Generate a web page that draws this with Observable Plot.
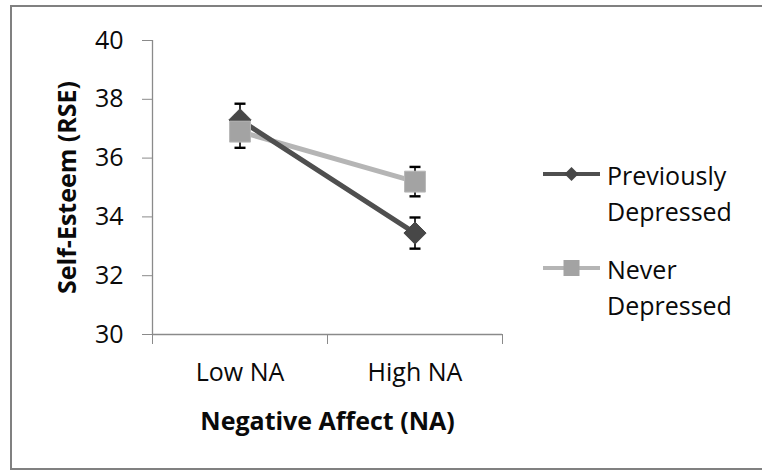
<!DOCTYPE html>
<html>
<head>
<meta charset="utf-8">
<script src="https://cdn.jsdelivr.net/npm/d3@7"></script>
<script src="https://cdn.jsdelivr.net/npm/@observablehq/plot@0.6"></script>
<style>
  html, body { margin: 0; padding: 0; background: #fff; }
  #wrap { position: relative; width: 762px; height: 474px; overflow: hidden; font-family: "Open Sans", Lato, sans-serif; }
  #border { position: absolute; left: 10px; top: 5px; width: 800px; height: 465px; border: 2px solid #808080; box-sizing: border-box; }
  #chart { position: absolute; left: 0; top: 0; }
  .leg { position: absolute; left: 543px; font-size: 25px; line-height: 36px; color: #0a0a0a; display: flex; align-items: flex-start; }
  .leg .lab { margin-left: 7px; }
</style>
</head>
<body>
<div id="wrap">
  <div id="border"></div>
  <div id="chart"></div>
  <div id="legend"></div>
</div>
<script>
// ---- data ----
const categories = ["Low NA", "High NA"];
const seriesNames = ["Previously Depressed", "Never Depressed"];
const prevDep = [37.3, 33.45];
const prevDepErr = [0.55, 0.53];
const neverDep = [36.9, 35.2];
const neverDepErr = [0.55, 0.5];
const yTicks = [30, 32, 34, 36, 38, 40];
const yTitle = "Self-Esteem (RSE)";
const xTitle = "Negative Affect (NA)";

const colors = {prev: "#4f4f4f", prevMarker: "#474747", never: "#b5b5b5", neverMarker: "#a3a3a3"};

// categories placed at band centres of a [0, n] scale
const pos = i => i + 0.5;
const rows = (vals, errs, s) => vals.map((v, i) => ({series: s, cat: categories[i], x: pos(i), v, lo: v - errs[i], hi: v + errs[i]}));
const prevRows = rows(prevDep, prevDepErr, seriesNames[0]);
const neverRows = rows(neverDep, neverDepErr, seriesNames[1]);
const allRows = prevRows.concat(neverRows);

const capSymbol = { draw(ctx, size) { const r = Math.sqrt(size / Math.PI); ctx.moveTo(-r, 0); ctx.lineTo(r, 0); } };
const font = "'Open Sans', Lato, sans-serif";

const chart = Plot.plot({
  width: 762,
  height: 474,
  marginLeft: 152,
  marginRight: 260,
  marginTop: 40,
  marginBottom: 140,
  style: {fontFamily: font, fontSize: "25px", color: "#0a0a0a", background: "transparent"},
  x: {domain: [0, categories.length]},
  y: {domain: [30, 40]},
  marks: [
    Plot.ruleY([30], {stroke: "#8a8a8a", strokeWidth: 1.3}),
    Plot.ruleX([0], {stroke: "#8a8a8a", strokeWidth: 1.3}),
    Plot.axisY({ticks: yTicks, tickSize: 10, tickPadding: 19, stroke: "#8a8a8a", label: null, fontSize: 25, tickFormat: d => d}),
    Plot.axisX({ticks: d3.range(categories.length + 1), tickSize: 10, tickFormat: () => "", stroke: "#8a8a8a", label: null}),
    Plot.axisX({ticks: categories.map((c, i) => pos(i)), tickSize: 0, tickPadding: 29, tickFormat: d => categories[d - 0.5], label: null, fontSize: 25}),
    Plot.text([xTitle], {frameAnchor: "bottom", dy: 87, fontWeight: "bold", fontSize: 25, lineAnchor: "middle", fill: "#0a0a0a"}),
    Plot.text([yTitle], {frameAnchor: "left", dx: -85, rotate: -90, textAnchor: "middle", fontWeight: "bold", fontSize: 25, lineAnchor: "middle", fill: "#0a0a0a"}),
    // error bars (drawn behind lines and markers)
    Plot.ruleX(allRows, {x: "x", y1: "lo", y2: "hi", stroke: "#000", strokeWidth: 1.6}),
    Plot.dot(allRows, {x: "x", y: "lo", symbol: capSymbol, r: 5.5, stroke: "#000", strokeWidth: 2.4}),
    Plot.dot(allRows, {x: "x", y: "hi", symbol: capSymbol, r: 5.5, stroke: "#000", strokeWidth: 2.4}),
    // lines
    Plot.line(neverRows, {x: "x", y: "v", stroke: colors.never, strokeWidth: 5}),
    Plot.line(prevRows, {x: "x", y: "v", stroke: colors.prev, strokeWidth: 5}),
    // markers
    Plot.dot(prevRows, {x: "x", y: "v", symbol: "diamond2", r: 10, fill: colors.prevMarker, stroke: colors.prevMarker, strokeWidth: 1}),
    Plot.dot(neverRows, {x: "x", y: "v", symbol: "square2", r: 13.3, fill: colors.neverMarker, stroke: "#b8b8b8", strokeWidth: 1})
  ]
});
document.getElementById("chart").appendChild(chart);

// ---- legend ----
const legend = document.getElementById("legend");
const legItems = [
  {name: seriesNames[0], line: colors.prev, marker: colors.prevMarker, shape: "diamond", top: 157},
  {name: seriesNames[1], line: colors.never, marker: colors.neverMarker, shape: "square", top: 251}
];
for (const it of legItems) {
  const div = document.createElement("div");
  div.className = "leg";
  div.style.top = it.top + "px";
  const glyph = it.shape === "diamond"
    ? `<polygon points="28.5,10 35.5,17 28.5,24 21.5,17" fill="${it.marker}"/>`
    : `<rect x="20.5" y="9" width="16" height="16" fill="${it.marker}"/>`;
  div.innerHTML = `<svg width="57" height="34"><line x1="0" x2="57" y1="17" y2="17" stroke="${it.line}" stroke-width="4"/>${glyph}</svg><span class="lab">${it.name.replace(" ", "<br>")}</span>`;
  legend.appendChild(div);
}
</script>
</body>
</html>
